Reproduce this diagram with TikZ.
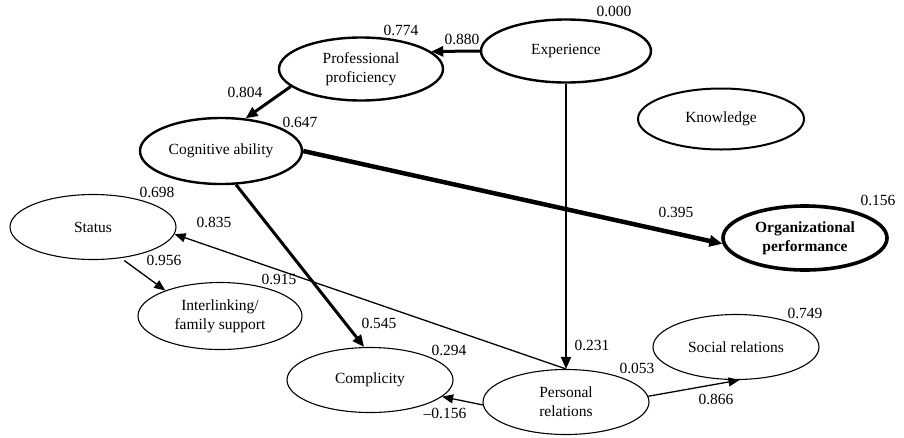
\documentclass[tikz,border=0pt]{standalone}
\usepackage{fontspec}
\setmainfont{Liberation Serif}
\usetikzlibrary{shapes.geometric,arrows.meta}
\begin{document}
\begin{tikzpicture}[x=1pt,y=-1pt,
  every node/.style={font=\fontsize{15.5}{19}\selectfont},
  lv/.style={ellipse,draw,inner sep=0pt,minimum width=166pt,minimum height=65pt,align=center},
  thinlv/.style={lv,line width=1.1pt},
  thicklv/.style={lv,line width=2.4pt},
  midlv/.style={lv,line width=2pt},
  boldlv/.style={lv,line width=3.6pt,font=\fontsize{15.5}{19}\selectfont\bfseries},
  num/.style={inner sep=0pt},
  tip/.style={-{Triangle[length=12pt,width=10pt]}},
  thinarr/.style={line width=1.3pt,-{Triangle[length=11pt,width=9pt]}},
  thickarr/.style={line width=3pt,tip},
  midarr/.style={line width=2.2pt,tip},
  heavyarr/.style={line width=4.5pt,-{Triangle[length=13pt,width=11pt]}}
]
\path[use as bounding box] (0,0) rectangle (904,437);

% latent variables
\node[thicklv,minimum width=170pt,minimum height=63pt] (exp) at (566,51) {Experience};
\node[thicklv,minimum width=164pt,minimum height=63pt] (prof) at (361,69) {Professional\\proficiency};
\node[thicklv,minimum width=162pt,minimum height=66pt] (cog) at (221,151) {Cognitive ability};
\node[midlv,minimum width=166pt,minimum height=61pt] (know) at (721,119) {Knowledge};
\node[boldlv,minimum width=164pt,minimum height=64pt] (org) at (805,238) {Organizational\\performance};
\node[thinlv] (status) at (93,227) {Status};
\node[thinlv,minimum width=164pt,minimum height=67pt] (inter) at (220,316) {Interlinking/\\family support};
\node[thinlv] (compl) at (370,380) {Complicity};
\node[thinlv] (pers) at (566,402) {Personal\\relations};
\node[thinlv] (social) at (736,347) {Social relations};

% paths
\draw[thickarr] (exp.west) -- (prof.14);
\draw[thickarr] (prof.194) -- (cog.53);
\draw[midarr] (exp.south) -- (pers.north);
\draw[heavyarr] (cog.east) -- (org.184);
\draw[thickarr] (cog.-66) -- (compl.100);
\draw[thinarr] (pers.north) -- (status.-5);
\draw[thinarr,shorten <=4pt] (status.-48) -- (inter.155);
\draw[thinarr] (pers.182) -- (compl.-13);
\draw[thinarr] (pers.4) -- (social.-84);

% coefficients
\node[num] (r1) at (614,11) {0.000};
\node[num] (r2) at (401,30) {0.774};
\node[num] (p1) at (462,39) {0.880};
\node[num] (p2) at (245,92) {0.804};
\node[num] (r3) at (300,122) {0.647};
\node[num] (r4) at (157,192) {0.698};
\node[num] (p3) at (214,222) {0.835};
\node[num] (p4) at (164,260) {0.956};
\node[num] (r5) at (279,279) {0.915};
\node[num] (p5) at (379,323) {0.545};
\node[num] (r6) at (449,350) {0.294};
\node[num] (p6) at (592,345) {0.231};
\node[num] (r7) at (637,368) {0.053};
\node[num] (p7) at (716,399) {0.866};
\node[num] (p8) at (445,413) {--0.156};
\node[num] (p9) at (676,212) {0.395};
\node[num] (r8) at (878,200) {0.156};
\node[num] (r9) at (805,313) {0.749};
\end{tikzpicture}
\end{document}
